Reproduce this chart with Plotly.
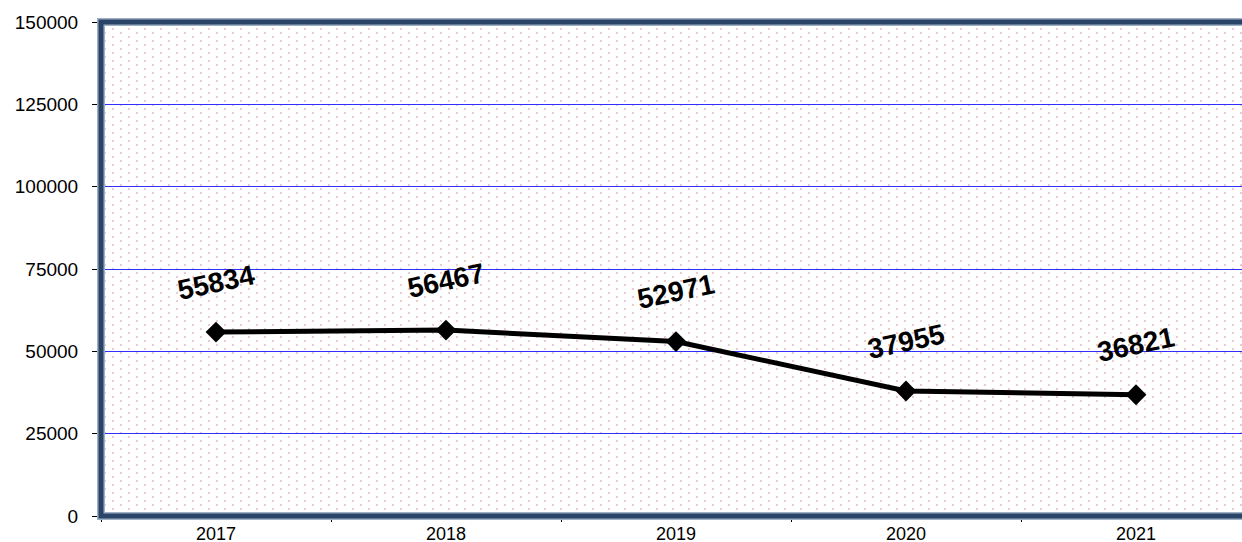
import base64
import plotly.graph_objects as go

# Annual totals
years = ["2017", "2018", "2019", "2020", "2021"]
totals = [55834, 56467, 52971, 37955, 36821]

y_ticks = [0, 25000, 50000, 75000, 100000, 125000, 150000]

FONT = "Arial, Liberation Sans, sans-serif"
W, H = 1242, 542
M_L, M_R, M_T, M_B = 101, 0, 22, 26
PLOT_W, PLOT_H = W - M_L - M_R, H - M_T - M_B
CAT_PX = 230  # pixel width of one category band

# Staggered dotted background for the plotting area
dots_svg = (
    f'<svg xmlns="http://www.w3.org/2000/svg" width="{PLOT_W}" height="{PLOT_H}">'
    '<defs><pattern id="d" width="16" height="8" patternUnits="userSpaceOnUse">'
    '<rect x="3" y="2" width="2" height="2" fill="#EBCBD0"/>'
    '<rect x="11" y="6" width="2" height="2" fill="#EBCBD0"/>'
    '</pattern></defs>'
    f'<rect width="{PLOT_W}" height="{PLOT_H}" fill="url(#d)"/></svg>'
)
dots_uri = "data:image/svg+xml;base64," + base64.b64encode(dots_svg.encode()).decode()

fig = go.Figure()
fig.add_trace(go.Scatter(
    x=years, y=totals, mode="lines+markers",
    line=dict(color="#000000", width=5),
    marker=dict(symbol="diamond", size=16, color="#000000"),
    hoverinfo="x+y", showlegend=False,
))

# Value labels; category axis positions are given by index
for i, v in enumerate(totals):
    fig.add_annotation(
        x=i, y=v, xref="x", yref="y", text=f"<b>{v}</b>", showarrow=False,
        yshift=50, textangle=-12,
        font=dict(family=FONT, size=28, color="#000000"),
    )

fig.update_layout(
    width=W, height=H,
    margin=dict(l=M_L, r=M_R, t=M_T, b=M_B, autoexpand=False),
    paper_bgcolor="#FFFFFF", plot_bgcolor="#FFFFFF",
    font=dict(family=FONT, size=18, color="#000000"),
    images=[dict(source=dots_uri, xref="paper", yref="paper", x=0, y=1,
                 sizex=1, sizey=1, sizing="stretch", layer="below",
                 xanchor="left", yanchor="top")],
    shapes=[
        dict(type="rect", xref="paper", yref="paper", x0=0, x1=1.05, y0=0, y1=1,
             line=dict(color="#9FB0C6", width=8), layer="above"),
        dict(type="rect", xref="paper", yref="paper", x0=0, x1=1.05, y0=0, y1=1,
             line=dict(color="#2A4467", width=5), layer="above"),
    ],
)

fig.update_xaxes(
    type="category", range=[-0.5, -0.5 + PLOT_W / CAT_PX],
    showgrid=False, zeroline=False,
    showline=True, linecolor="#000000", linewidth=2,
    ticks="outside", tickson="boundaries", ticklen=4, tickcolor="#000000",
    tickfont=dict(family=FONT, size=18), automargin=False,
)
fig.update_yaxes(
    range=[0, 150000], tickvals=y_ticks, ticktext=[str(t) for t in y_ticks],
    showgrid=True, gridcolor="#2E2EFF", gridwidth=1, zeroline=False,
    showline=True, linecolor="#000000", linewidth=2,
    ticks="outside", ticklen=7, tickcolor="#000000", ticklabelstandoff=10,
    tickfont=dict(family=FONT, size=19), automargin=False,
)

fig.write_html("out.html")
